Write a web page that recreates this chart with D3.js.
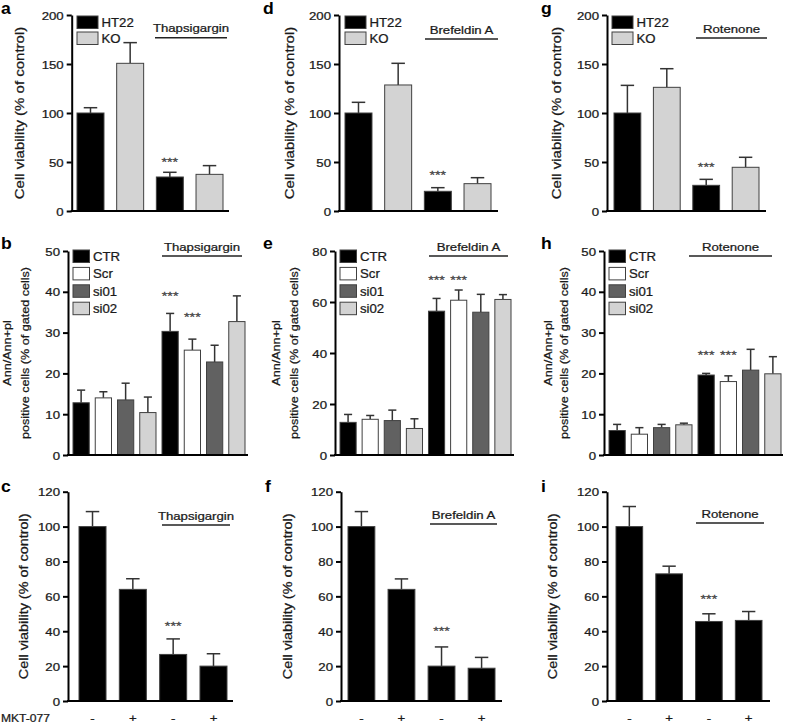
<!DOCTYPE html>
<html>
<head>
<meta charset="utf-8">
<script src="https://cdn.jsdelivr.net/npm/d3@7/dist/d3.min.js"></script>
<style>
  body { margin: 0; background: #fff; }
  svg { display: block; }
  text { font-family: "Liberation Sans", Arial, sans-serif; fill: #1a1a1a; stroke: #1a1a1a; stroke-width: 0.25px; }
</style>
</head>
<body>
<div id="img"></div>
<script>
// legend / category labels
const lineGroups = ["HT22", "KO"];
const siGroups = ["CTR", "Scr", "si01", "si02"];
const mktLabels = ["-", "+", "-", "+"];
const drugs = ["Thapsigargin", "Brefeldin A", "Rotenone"];

// y ticks
const koTicks = [0, 50, 100, 150, 200];
const annTicks50 = [0, 10, 20, 30, 40, 50];
const annTicks80 = [0, 20, 40, 60, 80];
const mktTicks = [0, 20, 40, 60, 80, 100, 120];

// row 1: cell viability, HT22 vs KO (ctrl, ctrl, drug, drug)
const koThapsMean = [100, 150.7, 34.7, 37.4];
const koThapsErr  = [5.4, 21.1, 4.8, 8.9];
const koBrefMean  = [100, 128.6, 20.1, 27.9];
const koBrefErr   = [10.9, 22.1, 3.7, 6.1];
const koRotMean   = [100, 126.2, 26.2, 44.6];
const koRotErr    = [28.2, 19.0, 6.1, 10.2];

// row 2: Ann/Ann+PI positive cells, CTR/Scr/si01/si02 without and with drug
const annThapsMean = [12.8, 14.0, 13.5, 10.4, 30.3, 25.7, 22.8, 32.7];
const annThapsErr  = [3.1, 1.5, 4.1, 3.8, 4.4, 2.7, 4.1, 6.3];
const annBrefMean  = [12.8, 14.0, 13.5, 10.4, 56.4, 60.7, 56.0, 61.0];
const annBrefErr   = [3.1, 1.5, 4.1, 3.8, 5.0, 4.0, 7.0, 1.9];
const annRotMean   = [6.0, 5.1, 6.7, 7.4, 19.6, 18.0, 20.8, 19.9];
const annRotErr    = [1.5, 1.6, 0.8, 0.4, 0.4, 1.4, 5.1, 4.2];

// row 3: cell viability with MKT-077
const mktThapsMean = [100, 64, 26.7, 20];
const mktThapsErr  = [8.6, 6.1, 8.9, 7.1];
const mktBrefMean  = [100, 64, 20, 18.8];
const mktBrefErr   = [8.6, 6.0, 11.0, 6.2];
const mktRotMean   = [100, 72.9, 45.6, 46.2];
const mktRotErr    = [11.5, 4.4, 4.4, 5.1];

// significance marks (bar index, height in data units)
const starsA = [{i: 2, at: 52}];
const starsD = [{i: 2, at: 38.8}];
const starsG = [{i: 2, at: 47}];
const starsB = [{i: 4, at: 39.5}, {i: 5, at: 34.3}];
const starsE = [{i: 4, at: 69.4}, {i: 5, at: 69.4}];
const starsH = [{i: 4, at: 25.2}, {i: 5, at: 25.2}];
const starsC = [{i: 2, at: 44.3}];
const starsF = [{i: 2, at: 41.3}];
const starsI = [{i: 2, at: 59.6}];

const BLACK = "#000", LIGHT = "#d3d3d3", DARK = "#616161", WHITE = "#fff";
const koFills = [BLACK, LIGHT, BLACK, LIGHT];
const siFills = [BLACK, WHITE, DARK, LIGHT, BLACK, WHITE, DARK, LIGHT];
const mktFills = [BLACK, BLACK, BLACK, BLACK];

const svg = d3.select("#img").append("svg")
  .attr("width", 787)
  .attr("height", 724);

// text helper: the figure's type is a bit wide, so stretch along the reading direction
function stext(parent, x, y, str, o) {
  const t = parent.append("text")
    .attr("transform", `translate(${x},${y})` + (o.rot ? " rotate(-90)" : "") + ` scale(${o.sx || 1.2},1)`)
    .attr("text-anchor", o.anchor || "start")
    .attr("font-size", o.fs)
    .text(str);
  if (o.bold) t.attr("font-weight", "bold").style("stroke", "none");
  if (o.fill) t.style("fill", o.fill).style("stroke", o.bold ? "none" : o.fill);
  return t;
}

function drawPanel(p) {
  const g = svg.append("g");

  const y = d3.scaleLinear().domain([0, p.yMax]).range([p.y0, p.y1]);
  const x = d3.scaleBand()
    .domain(d3.range(p.mean.length))
    .range([p.bx0, p.bx1])
    .paddingInner(p.pad)
    .paddingOuter(0);
  const bw = x.bandwidth();

  // error bars (upper only)
  const eb = g.selectAll("g.err").data(p.mean).join("g").attr("class", "err");
  eb.append("line")
    .attr("x1", (d, i) => x(i) + bw / 2).attr("x2", (d, i) => x(i) + bw / 2)
    .attr("y1", d => y(d)).attr("y2", (d, i) => y(d + p.err[i]))
    .attr("stroke", "#333").attr("stroke-width", 1.5);
  eb.append("line")
    .attr("x1", (d, i) => x(i) + bw / 4).attr("x2", (d, i) => x(i) + bw * 3 / 4)
    .attr("y1", (d, i) => y(d + p.err[i])).attr("y2", (d, i) => y(d + p.err[i]))
    .attr("stroke", "#333").attr("stroke-width", 1.5);

  // bars
  g.selectAll("rect.bar").data(p.mean).join("rect")
    .attr("class", "bar")
    .attr("x", (d, i) => x(i))
    .attr("y", d => y(d))
    .attr("width", bw)
    .attr("height", d => y(0) - y(d))
    .attr("fill", (d, i) => p.fills[i])
    .attr("stroke", "#404040")
    .attr("stroke-width", 1);

  // y axis
  const ax = g.append("g")
    .attr("transform", `translate(${p.ax},0)`)
    .call(d3.axisLeft(y).tickValues(p.ticks).tickSize(5).tickSizeOuter(0).tickPadding(0));
  ax.select(".domain").attr("stroke", "#000").attr("stroke-width", 2);
  ax.selectAll(".tick line").attr("stroke", "#000").attr("stroke-width", 2);
  ax.selectAll(".tick text")
    .attr("font-size", 11)
    .attr("x", null).attr("dy", null)
    .attr("transform", "translate(-8,4) scale(1.2,1)")
    .style("fill", "#1a1a1a");
  ax.attr("font-family", null).attr("font-size", null);

  // x axis line
  g.append("line")
    .attr("x1", p.ax - 1).attr("x2", p.xEnd)
    .attr("y1", y(0)).attr("y2", y(0))
    .attr("stroke", "#000").attr("stroke-width", 2);

  // significance stars
  p.stars.forEach(s => {
    stext(g, x(s.i) + bw / 2, y(s.at) + 6.4, "***", {fs: 11, sx: 1.3, anchor: "middle", fill: "#444"});
  });

  // treatment bracket
  g.append("line")
    .attr("x1", p.line[0]).attr("x2", p.line[1])
    .attr("y1", p.lineY).attr("y2", p.lineY)
    .attr("stroke", "#222").attr("stroke-width", 1.5);
  stext(g, (p.line[0] + p.line[1]) / 2, p.lineY - 5.5, p.drug, {fs: 11, anchor: "middle"});

  // legend
  if (p.legend) {
    p.legend.forEach((name, k) => {
      const ly = p.legY + k * p.legStep;
      g.append("rect")
        .attr("x", p.legX).attr("y", ly)
        .attr("width", p.legW).attr("height", 12.5)
        .attr("fill", p.legFills[k]).attr("stroke", "#404040").attr("stroke-width", 1);
      stext(g, p.legX + p.legW + 3.5, ly + 11, name, {fs: 12, sx: 1.1});
    });
  }

  // y title (one or two lines)
  p.title.forEach((t, k) => {
    stext(g, p.titleX[k] + p.titleFs * 0.27, (p.y0 + p.y1) / 2, t, {fs: p.titleFs, rot: true, anchor: "middle", sx: 1.2});
  });

  // x labels
  if (p.xLabels) {
    p.xLabels.forEach((lab, i) => {
      stext(g, x(i) + bw / 2, 722, lab, {fs: 11, anchor: "middle"});
    });
  }

  // panel letter
  stext(g, p.letterX, p.letterY, p.letter, {fs: 16, bold: true, sx: 1.1, fill: "#000"});
}

const vTitle = ["Cell viability (% of control)"];
const annTitle = ["Ann/Ann+pl", "positive cells (% of gated cells)"];

const rowTop = {y0: 211, y1: 15, yMax: 200, ticks: koTicks, pad: 0.32, fills: koFills,
  legend: lineGroups, legFills: [BLACK, LIGHT], legY: 16, legStep: 16, legW: 21,
  title: vTitle, titleFs: 12.5, letterY: 14};
const rowMid = {y0: 455, y1: 251, pad: 0.27, fills: siFills,
  legend: siGroups, legFills: [BLACK, WHITE, DARK, LIGHT], legY: 250, legStep: 17.4, legW: 16.5,
  title: annTitle, titleFs: 10.5, letterY: 249};
const rowBot = {y0: 701, y1: 491.7, yMax: 120, ticks: mktTicks, pad: 0.33, fills: mktFills,
  title: vTitle, titleFs: 12, letterY: 492};

const panels = [
  Object.assign({}, rowTop, {letter: "a", letterX: 1, mean: koThapsMean, err: koThapsErr, drug: drugs[0], stars: starsA,
    ax: 71.7, bx0: 77, bx1: 223, xEnd: 229, legX: 77, line: [155, 227], lineY: 37.7, titleX: [21]}),
  Object.assign({}, rowTop, {letter: "d", letterX: 263, mean: koBrefMean, err: koBrefErr, drug: drugs[1], stars: starsD,
    ax: 339, bx0: 345, bx1: 491, xEnd: 498, legX: 345, line: [425, 498], lineY: 39, titleX: [290.5]}),
  Object.assign({}, rowTop, {letter: "g", letterX: 541, mean: koRotMean, err: koRotErr, drug: drugs[2], stars: starsG,
    ax: 607, bx0: 614, bx1: 759, xEnd: 766, legX: 612, line: [696, 767], lineY: 38, titleX: [558]}),

  Object.assign({}, rowMid, {letter: "b", letterX: 1, mean: annThapsMean, err: annThapsErr, drug: drugs[0], stars: starsB,
    yMax: 50, ticks: annTicks50, ax: 68, bx0: 73, bx1: 245, xEnd: 248, legX: 73, line: [162, 242], lineY: 256, titleX: [8, 26]}),
  Object.assign({}, rowMid, {letter: "e", letterX: 263, mean: annBrefMean, err: annBrefErr, drug: drugs[1], stars: starsE,
    yMax: 80, ticks: annTicks80, ax: 335, bx0: 340, bx1: 511, xEnd: 514, legX: 340, line: [429, 508], lineY: 256, titleX: [277, 295]}),
  Object.assign({}, rowMid, {letter: "h", letterX: 541, mean: annRotMean, err: annRotErr, drug: drugs[2], stars: starsH,
    yMax: 50, ticks: annTicks50, ax: 604, bx0: 609, bx1: 781, xEnd: 783, legX: 609, line: [689, 772], lineY: 256, titleX: [549, 565]}),

  Object.assign({}, rowBot, {letter: "c", letterX: 1, mean: mktThapsMean, err: mktThapsErr, drug: drugs[0], stars: starsC,
    ax: 68, bx0: 79, bx1: 227, xEnd: 233, line: [162, 230], lineY: 525, titleX: [25], xLabels: mktLabels}),
  Object.assign({}, rowBot, {letter: "f", letterX: 265, mean: mktBrefMean, err: mktBrefErr, drug: drugs[1], stars: starsF,
    ax: 341, bx0: 348, bx1: 495, xEnd: 502, line: [430, 497], lineY: 524, titleX: [289], xLabels: mktLabels}),
  Object.assign({}, rowBot, {letter: "i", letterX: 541, mean: mktRotMean, err: mktRotErr, drug: drugs[2], stars: starsI,
    ax: 607, bx0: 616, bx1: 762, xEnd: 770, line: [696, 764], lineY: 523, titleX: [554], xLabels: mktLabels})
];

panels.forEach(drawPanel);

// row label for the MKT-077 treatment
stext(svg, 1, 722, "MKT-077", {fs: 11, sx: 1.1});
</script>
</body>
</html>
